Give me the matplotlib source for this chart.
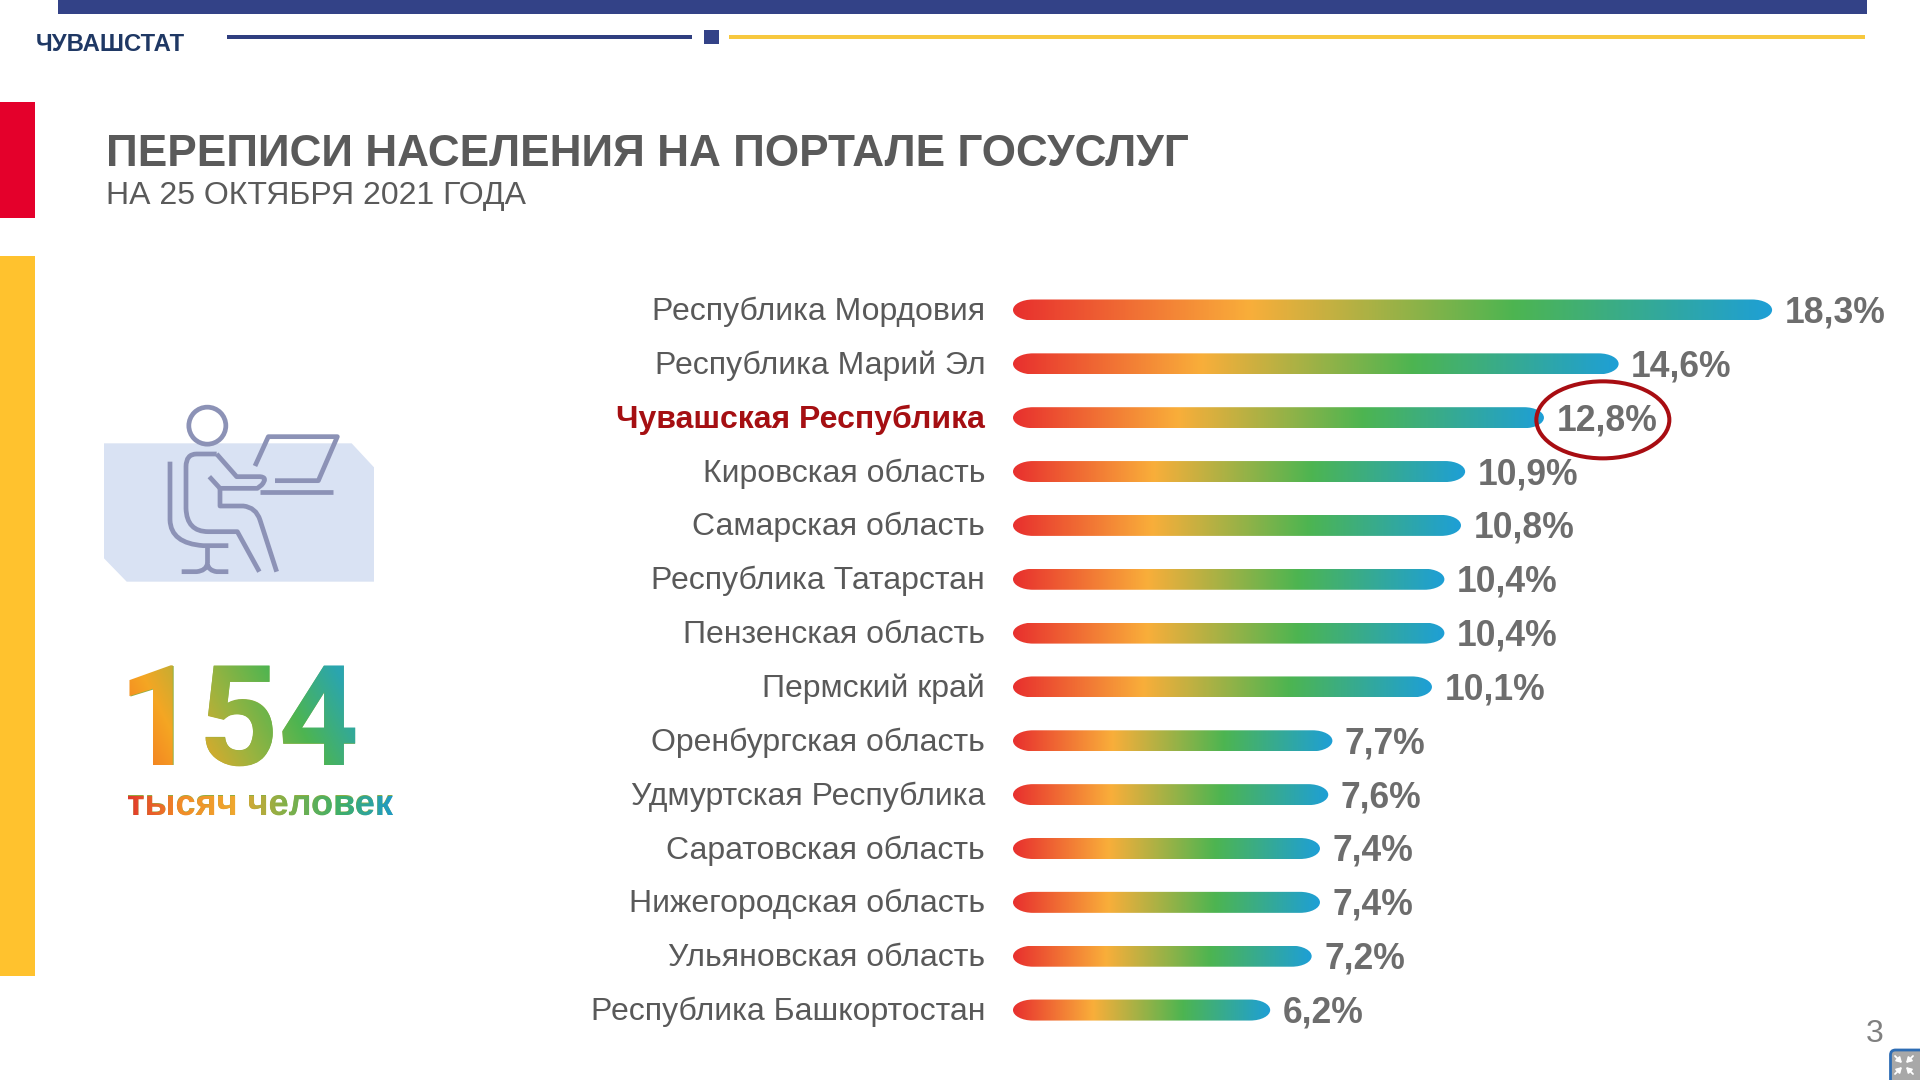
import numpy as np
import matplotlib
matplotlib.use("Agg")
import matplotlib.pyplot as plt
from matplotlib.colors import LinearSegmentedColormap
from matplotlib.patches import Rectangle, Ellipse, FancyBboxPatch, Polygon, PathPatch, Circle
from matplotlib.path import Path
from matplotlib.textpath import TextPath
from matplotlib.font_manager import FontProperties
from matplotlib.transforms import Affine2D, ScaledTranslation

plt.rcParams['font.family'] = ['Liberation Sans', 'DejaVu Sans']

regions = ["Республика Мордовия", "Республика Марий Эл", "Чувашская Республика",
           "Кировская область", "Самарская область", "Республика Татарстан",
           "Пензенская область", "Пермский край", "Оренбургская область",
           "Удмуртская Республика", "Саратовская область", "Нижегородская область",
           "Ульяновская область", "Республика Башкортостан"]
shares = [18.3, 14.6, 12.8, 10.9, 10.8, 10.4, 10.4, 10.1, 7.7, 7.6, 7.4, 7.4, 7.2, 6.2]
share_labels = ["18,3%", "14,6%", "12,8%", "10,9%", "10,8%", "10,4%", "10,4%", "10,1%",
                "7,7%", "7,6%", "7,4%", "7,4%", "7,2%", "6,2%"]
highlight = "Чувашская Республика"
title = "ПЕРЕПИСИ НАСЕЛЕНИЯ НА ПОРТАЛЕ ГОСУСЛУГ"
subtitle = "НА 25 ОКТЯБРЯ 2021 ГОДА"
brand = "ЧУВАШСТАТ"
big_number = "154"
big_unit = "тысяч человек"
page_number = "3"

W, H = 1920, 1080
fig = plt.figure(figsize=(W / 100, H / 100), dpi=100, facecolor="white")

# full-page layer measured in pixels
bg = fig.add_axes([0, 0, 1, 1], zorder=0)
bg.set_xlim(0, W)
bg.set_ylim(H, 0)
bg.axis("off")


def box(x0, y0, x1, y1, color, z=1):
    bg.add_patch(Rectangle((x0, y0), x1 - x0, y1 - y0, facecolor=color, edgecolor="none", zorder=z))


box(58, 0, 1867, 14, "#334287")
box(227, 34.5, 692, 39, "#2F3E7F")
box(704, 30, 719, 44, "#334287")
box(729, 34.5, 1865, 38.5, "#F7C83E")
box(0, 102, 35, 218, "#E4002B")
box(0, 256, 35, 976, "#FFC22E")

bg.text(36, 44.5, brand, fontsize=17.2, fontweight="bold", color="#1F3864", va="center", ha="left")
bg.text(106, 155, title, fontsize=31.75, fontweight="bold", color="#5A5A5A", va="center", ha="left")
bg.text(106, 196, subtitle, fontsize=23, color="#5A5A5A", va="center", ha="left")

# pictogram, outlined in pixels
def zx(v):
    return v / 3


def zy(v):
    return 380 + v / 3


bg.add_patch(Polygon([(zx(a), zy(b)) for a, b in
                      [(312, 190), (1055, 190), (1122, 262), (1122, 605), (380, 605), (312, 535)]],
                     closed=True, facecolor="#D9E2F3", edgecolor="none", zorder=2))
ICON = "#8C92B6"
bg.add_patch(Circle((zx(622), zy(137)), 18.5, facecolor="none", edgecolor=ICON, lw=3.4, zorder=3))


def stroke(verts, codes=None):
    pts = [(zx(a), zy(b)) for a, b in verts]
    c = codes if codes else [Path.MOVETO] + [Path.LINETO] * (len(pts) - 1)
    bg.add_patch(PathPatch(Path(pts, c), facecolor="none", edgecolor=ICON, lw=3.4,
                           capstyle="butt", joinstyle="round", zorder=3))


M, L, C = Path.MOVETO, Path.LINETO, Path.CURVE3
stroke([(510, 245), (510, 420), (512, 490), (610, 497), (685, 497)], [M, L, C, C, L])
stroke([(620, 497), (620, 550)])
stroke([(545, 575), (590, 575), (618, 572), (622, 552), (626, 572), (650, 575), (685, 575)], [M, L, C, C, C, C, L])
stroke([(650, 222), (590, 222), (558, 222), (558, 260), (558, 385), (560, 455), (625, 455), (712, 455), (778, 575)],
       [M, L, C, C, L, C, C, L, L])
stroke([(650, 222), (710, 290), (780, 290), (805, 292), (785, 315), (772, 325), (660, 325), (628, 290)],
       [M, L, L, C, C, L, L, L])
stroke([(660, 325), (660, 378), (730, 378), (768, 382), (780, 420), (830, 575)], [M, L, L, C, C, L])
stroke([(780, 335), (1000, 335)])
stroke([(765, 258), (805, 170), (1012, 170), (955, 302), (825, 302)])


# gradient lettering: real text beneath, gradient fill clipped to the same glyph outline
def gradient_text(s, x, baseline, size_px, img, extent, family):
    fp = FontProperties(family=family, weight="bold")
    bg.text(x, baseline, s, fontproperties=fp, fontsize=size_px * 0.72, color="#8FAF40",
            ha="left", va="baseline", zorder=3)
    tp = TextPath((0, 0), s, size=size_px, prop=fp)
    clip = PathPatch(tp, transform=Affine2D().scale(1, -1).translate(x, baseline) + bg.transData,
                     facecolor="none", edgecolor="none")
    bg.add_patch(clip)
    im = bg.imshow(img, extent=extent, aspect="auto", zorder=4, interpolation="bilinear", origin="upper")
    im.set_clip_path(clip)


num_cmap = LinearSegmentedColormap.from_list(
    "num", ["#F26B21", "#F5A623", "#9DB33F", "#4DB551", "#2AA5B0"])
nx, ny = 300, 120
gx, gy = np.meshgrid(np.linspace(0, 1, nx), np.linspace(0, 1, ny))
# diagonal: low-left to high-right
t = np.clip((gx * 226 + (1 - gy) * 60 - 10) / 250, 0, 1)
gradient_text(big_number, 118, 765, 140, num_cmap(t), (116, 356, 775, 650), "Roboto")

unit_cmap = LinearSegmentedColormap.from_list(
    "unit", ["#E1372B", "#F28C28", "#EFA72F", "#7FB04A", "#3FAF6A", "#1F9AC8"])
gradient_text(big_unit, 127, 815, 36.1, unit_cmap(np.linspace(0, 1, 300)[None, :]),
              (127, 394, 825, 785), "Liberation Sans")

# page number and corner button
bg.text(1874.5, 1034, page_number, fontsize=23, color="#808080", ha="center", va="center")
bg.add_patch(FancyBboxPatch((1890.5, 1050), 40, 40, boxstyle="round,pad=0,rounding_size=5",
                            facecolor="#A8A8A8", edgecolor="#2E6DB4", lw=2, zorder=3))
for sx, sy in [(-1, -1), (1, -1), (-1, 1), (1, 1)]:
    cx, cy = 1904, 1065
    bg.annotate("", xy=(cx + sx * 2, cy + sy * 2), xytext=(cx + sx * 9, cy + sy * 9),
                arrowprops=dict(arrowstyle="-|>,head_width=0.18,head_length=0.3", color="white", lw=1.3,
                                shrinkA=0, shrinkB=0), zorder=4)

# chart axes: one percent is 41.48 px, one row is 53.85 px
PX_PER_PCT = 41.48
PX_PER_ROW = 53.85
LEFT = 1013
TOP = 310 - PX_PER_ROW / 2
n = len(regions)
ax_h = n * PX_PER_ROW
ax = fig.add_axes([LEFT / W, 1 - (TOP + ax_h) / H, (W - LEFT) / W, ax_h / H], zorder=1)
ax.patch.set_alpha(0)
xmax = (W - LEFT) / PX_PER_PCT
ypos = np.arange(n)
BAR_PX = 21
bar_h = BAR_PX / PX_PER_ROW
bars = ax.barh(ypos, shares, height=bar_h, color="none", edgecolor="none")

grad = LinearSegmentedColormap.from_list(
    "bar", [(0, "#E8302E"), (0.31, "#F9AE3A"), (0.66, "#4DB551"), (1, "#1E9FD6")])
gimg = grad(np.linspace(0, 1, 512)[None, :])
K = 0.5523
end_r = 20 / PX_PER_PCT


def capsule(x1, y0, y1, r):
    ym = (y0 + y1) / 2
    hh = (y1 - y0) / 2
    C4 = Path.CURVE4
    verts = [(r, y0), (x1 - r, y0),
             (x1 - r + K * r, y0), (x1, ym - K * hh), (x1, ym),
             (x1, ym + K * hh), (x1 - r + K * r, y1), (x1 - r, y1),
             (r, y1),
             (r - K * r, y1), (0, ym + K * hh), (0, ym),
             (0, ym - K * hh), (r - K * r, y0), (r, y0),
             (r, y0)]
    codes = [Path.MOVETO, Path.LINETO, C4, C4, C4, C4, C4, C4, Path.LINETO,
             C4, C4, C4, C4, C4, C4, Path.CLOSEPOLY]
    return Path(verts, codes)


for y, v in zip(ypos, shares):
    shape = PathPatch(capsule(v, y - bar_h / 2, y + bar_h / 2, end_r), facecolor="none", edgecolor="none")
    ax.add_patch(shape)
    im = ax.imshow(gimg, extent=(0, v, y + bar_h / 2, y - bar_h / 2), aspect="auto", zorder=2,
                   interpolation="bilinear")
    im.set_clip_path(shape)

ax.set_xlim(0, xmax)
ax.set_ylim(n - 0.5, -0.5)
ax.set_aspect("auto")
ax.set_yticks(ypos)
ax.set_yticklabels(regions, fontsize=23, color="#595959")
ax.tick_params(axis="y", length=0, pad=20)
ax.xaxis.set_visible(False)
for s in ax.spines.values():
    s.set_visible(False)
lift = ScaledTranslation(0, 1.2 / 72, fig.dpi_scale_trans)
for tick in ax.get_yticklabels():
    tick.set_transform(tick.get_transform() + lift)
    if tick.get_text() == highlight:
        tick.set_color("#A50F12")
        tick.set_fontweight("bold")

for y, v, lab in zip(ypos, shares, share_labels):
    ax.text(v + 12.5 / PX_PER_PCT, y + 3 / PX_PER_ROW, lab, fontsize=25.6, fontweight="bold",
            color="#6D6D6D", ha="left", va="center", zorder=3)

hi = regions.index(highlight)
ax.add_patch(Ellipse((shares[hi] + 1.42, hi + 0.04), 133 / PX_PER_PCT, 77 / PX_PER_ROW,
                     facecolor="none", edgecolor="#A80D12", lw=2.9, zorder=4))

fig.savefig("out.png", dpi=100, facecolor="white")
